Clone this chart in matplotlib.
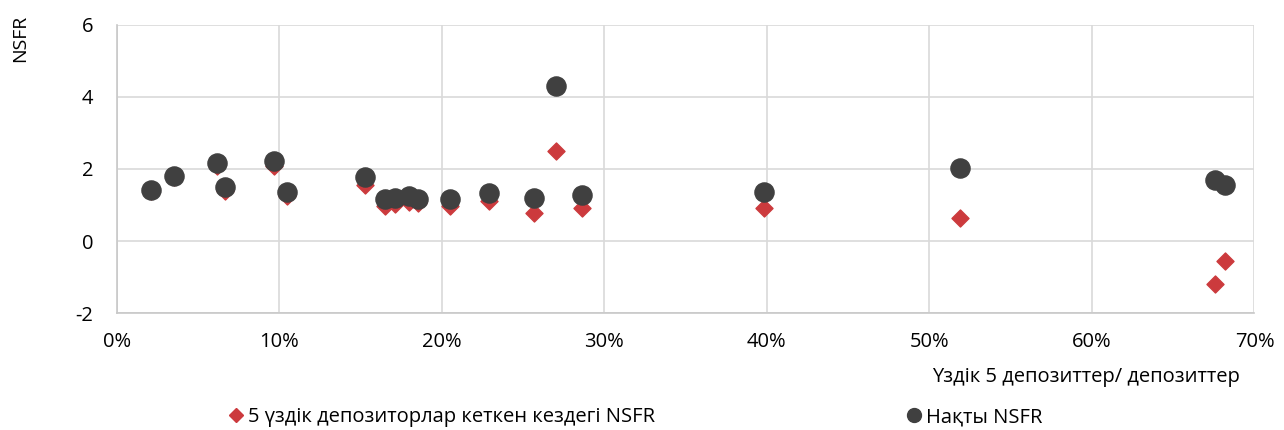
import numpy as np
import matplotlib.pyplot as plt
from matplotlib.lines import Line2D

# Үздік 5 депозиттер / депозиттер, %
share = [2.1, 3.5, 6.15, 6.65, 9.7, 10.5, 15.3, 16.5, 17.1, 17.95, 18.5,
         20.5, 22.9, 25.65, 27.0, 28.6, 39.8, 51.9, 67.6, 68.2]
# Нақты NSFR
nsfr_actual = [1.42, 1.80, 2.17, 1.50, 2.22, 1.36, 1.78, 1.17, 1.19, 1.25, 1.18,
               1.17, 1.33, 1.19, 4.30, 1.28, 1.35, 2.02, 1.70, 1.56]
# 5 үздік депозиторлар кеткен кездегі NSFR
nsfr_stress = [1.40, 1.78, 2.07, 1.40, 2.07, 1.25, 1.55, 0.98, 1.02, 1.08, 1.05,
               0.97, 1.10, 0.77, 2.50, 0.92, 0.91, 0.64, -1.18, -0.56]

label_stress = '5 үздік депозиторлар кеткен кездегі NSFR'
label_actual = 'Нақты NSFR'

plt.rcParams['font.family'] = ['Open Sans', 'DejaVu Sans']
plt.rcParams['font.size'] = 14
plt.rcParams['axes.unicode_minus'] = False

red = '#cc3a3d'
dark = '#404040'

fig = plt.figure(figsize=(12.84, 4.30), dpi=100)
ax = fig.add_axes([0.091, 0.272, 0.886, 0.670])

x = np.array(share) / 100
ax.scatter(x, nsfr_stress, marker='D', s=75, color=red, zorder=3)
ax.scatter(x, nsfr_actual, marker='o', s=190, color=dark, zorder=4)

ax.set_xlim(0, 0.70)
ax.set_ylim(-2, 6)
ax.set_xticks(np.arange(0, 0.71, 0.1))
ax.set_xticklabels([f'{int(round(v*100))}%' for v in np.arange(0, 0.71, 0.1)])
ax.set_yticks([-2, 0, 2, 4, 6])
ax.tick_params(length=0, pad=14, labelsize=14.5)
ax.tick_params(axis='y', pad=17)
ax.grid(True, color='#d9d9d9', linewidth=1.2)
ax.set_axisbelow(True)
for s in ['top', 'right']:
    ax.spines[s].set_visible(False)
for s in ['left', 'bottom']:
    ax.spines[s].set_color('#c8c8c8')
    ax.spines[s].set_linewidth(1.2)

fig.text(0.966, 0.123, 'Үздік 5 депозиттер/ депозиттер', ha='right', va='center', fontsize=14.5)
fig.text(0.016, 0.91, 'NSFR', rotation=90, ha='center', va='center', fontsize=14)

h1 = Line2D([], [], marker='D', color=red, linestyle='none', markersize=7)
h2 = Line2D([], [], marker='o', color=dark, linestyle='none', markersize=10)
leg1 = fig.legend([h1], [label_stress], loc='center left', bbox_to_anchor=(0.160, 0.03),
                  frameon=False, handletextpad=0.0, handlelength=1.2, fontsize=14.5)
leg2 = fig.legend([h2], [label_actual], loc='center left', bbox_to_anchor=(0.688, 0.03),
                  frameon=False, handletextpad=0.0, handlelength=1.2, fontsize=14.5)

fig.savefig('out.png', dpi=100)
